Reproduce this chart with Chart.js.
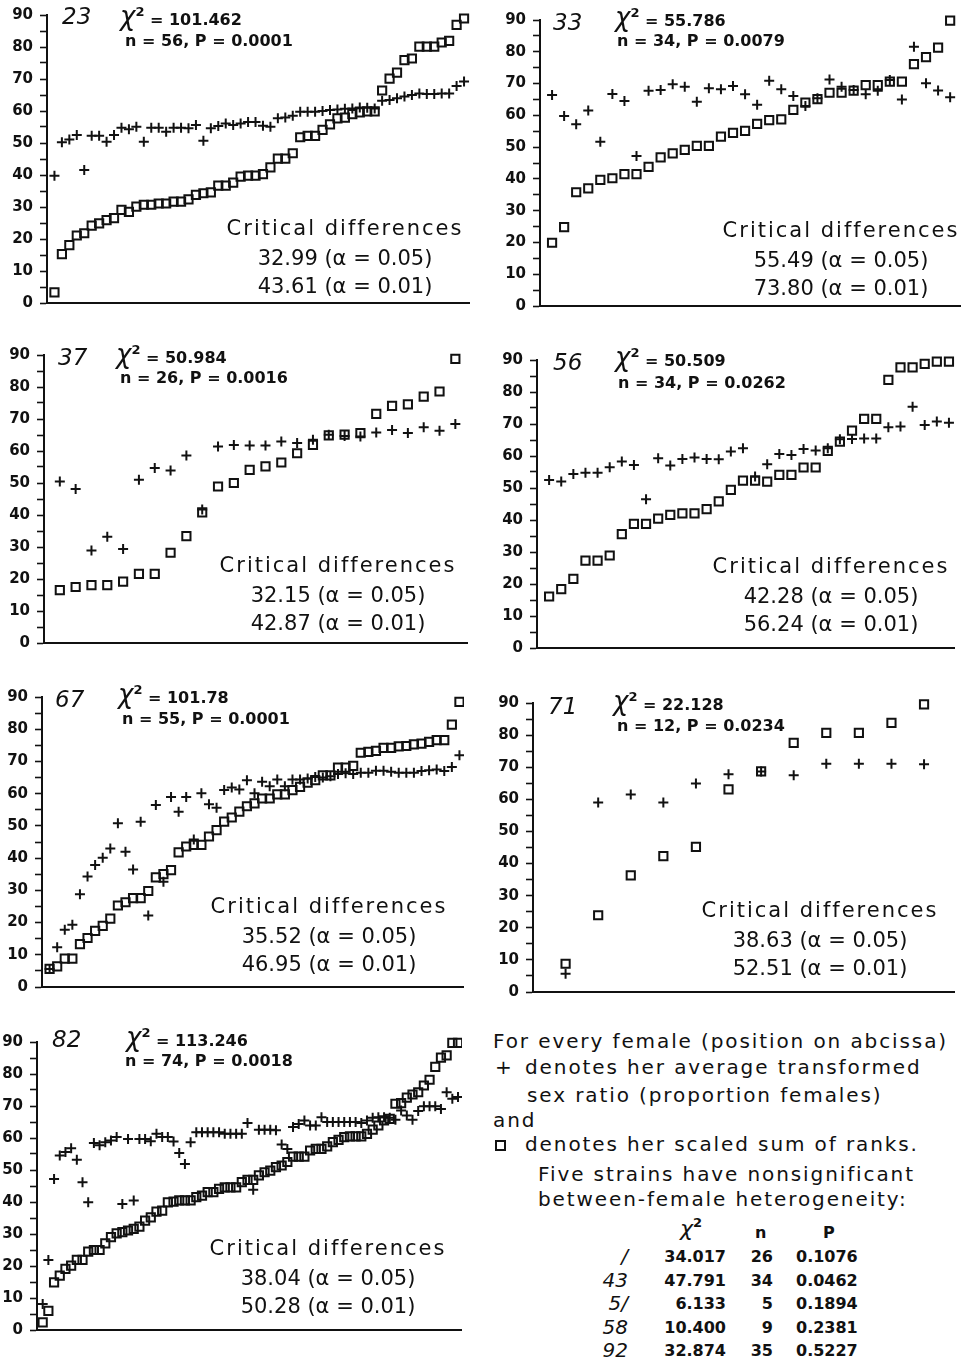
<!DOCTYPE html>
<html>
<head>
<meta charset="utf-8">
<script src="https://cdn.jsdelivr.net/npm/chart.js@4.4.1/dist/chart.umd.min.js"></script>
<style>
  html, body { margin: 0; padding: 0; background: #fff; }
  #page { position: relative; width: 961px; height: 1365px; overflow: hidden; background: #fff; color: #111; font-family: 'DejaVu Sans', sans-serif; }
  .box { position: absolute; }
  .t { position: absolute; white-space: nowrap; line-height: 1; }
  .lbl { font-style: italic; font-size: 23px; font-weight: normal; }
  .slbl { font-style: italic; font-size: 20px; font-weight: normal; }
  .stat { font-size: 16px; font-weight: bold; }
  .chi { font-size: 26px; font-weight: normal; font-style: italic; }
  .sup { font-size: 13px; font-weight: bold; position: relative; top: -9px; }
  .crit { font-size: 21px; text-align: center; width: 260px; }
  .crit.head { letter-spacing: 2px; }
  .note { font-size: 20px; letter-spacing: 1.9px; }
  .cell { font-size: 16px; font-weight: bold; }
  .sqmark { display: inline-block; width: 7px; height: 7px; border: 2px solid #111; }
</style>
</head>
<body>
<div id="page"></div>
<script>
// ------------------------------------------------------------
// Dados — sete linhagens, cada fêmea: soma de postos (□) e razão sexual (+)
// ------------------------------------------------------------

const Y_MAJOR = [0, 10, 20, 30, 40, 50, 60, 70, 80, 90];

const strains = ['23', '33', '37', '56', '67', '71', '82'];
const chi2 = ['101.462', '55.786', '50.984', '50.509', '101.78', '22.128', '113.246'];
const nFemales = ['56', '34', '26', '34', '55', '12', '74'];
const pValues = ['0.0001', '0.0079', '0.0016', '0.0262', '0.0001', '0.0234', '0.0018'];
const crit05 = ['32.99', '55.49', '32.15', '42.28', '35.52', '38.63', '38.04'];
const crit01 = ['43.61', '73.80', '42.87', '56.24', '46.95', '52.51', '50.28'];

const sq23 = [3.3, 15.3, 18.1, 21.1, 21.8, 24.2, 24.9, 25.9, 26.5, 29.1, 28.5, 30.1, 30.7, 30.7, 31.1, 31.1,
  31.7, 31.7, 32.4, 33.8, 34.3, 34.6, 36.7, 36.7, 37.6, 39.5, 39.8, 39.8, 40.3, 42.4, 45.1, 45.1, 46.8, 51.8,
  52.2, 52.2, 54.1, 55.8, 57.7, 57.9, 59.0, 59.6, 59.9, 59.9, 66.4, 70.1, 72.0, 75.9, 76.4, 80.1, 80.1, 80.1,
  81.4, 81.9, 86.9, 88.9];
const pl23 = [39.8, 50.2, 51.1, 52.5, 41.6, 52.3, 52.3, 50.4, 52.5, 54.8, 54.3, 55.1, 50.4, 54.8, 54.8, 53.5,
  54.8, 54.8, 54.6, 55.6, 50.7, 54.6, 55.3, 56.1, 55.6, 56.1, 56.6, 56.6, 55.4, 55.1, 57.7, 58.0, 58.5, 59.8,
  59.8, 59.8, 60.0, 60.3, 60.5, 60.7, 60.8, 61.1, 61.0, 60.8, 63.2, 63.4, 64.0, 64.5, 65.0, 65.5, 65.3, 65.3,
  65.5, 65.5, 67.8, 69.2];

const sq33 = [19.9, 24.8, 35.8, 37.0, 39.7, 40.2, 41.5, 41.5, 43.8, 46.8, 48.0, 49.1, 50.4, 50.4, 53.3, 54.5,
  55.1, 57.3, 58.5, 58.7, 61.7, 64.0, 65.1, 67.1, 67.1, 67.8, 69.5, 69.5, 70.6, 70.6, 76.1, 78.3, 81.3, 89.8];
const pl33 = [66.4, 59.8, 57.2, 61.5, 51.7, 66.7, 64.5, 47.2, 67.7, 68.0, 69.8, 69.0, 64.3, 68.5, 68.2, 69.2,
  66.6, 63.3, 70.9, 68.2, 66.1, 62.9, 65.4, 71.3, 69.0, 68.0, 66.6, 67.7, 71.1, 65.0, 81.6, 70.1, 67.8, 65.7];

const sq37 = [16.5, 17.5, 18.1, 18.1, 19.2, 21.6, 21.6, 28.2, 33.4, 40.8, 48.9, 50.0, 54.1, 55.2, 56.4, 59.3,
  61.9, 64.9, 65.1, 65.6, 71.6, 74.1, 74.6, 77.0, 78.6, 88.8];
const pl37 = [50.5, 48.1, 28.9, 33.2, 29.4, 51.0, 54.7, 53.9, 58.6, 41.7, 61.4, 61.9, 61.7, 61.7, 63.0, 62.5,
  63.5, 65.1, 64.7, 64.5, 65.8, 66.6, 65.6, 67.4, 66.3, 68.4];

const sq56 = [16.1, 18.4, 21.6, 27.3, 27.3, 28.9, 35.6, 38.8, 38.8, 40.4, 41.6, 42.1, 42.1, 43.4, 45.8, 49.4,
  52.3, 52.3, 52.0, 54.1, 54.1, 56.4, 56.4, 61.6, 64.5, 67.9, 71.6, 71.6, 83.8, 87.7, 87.7, 88.8, 89.5, 89.5];
const pl56 = [52.5, 52.0, 54.4, 54.8, 54.8, 56.5, 58.3, 57.2, 46.5, 59.3, 57.0, 59.1, 59.5, 59.1, 59.0, 61.4,
  62.4, 53.6, 57.4, 60.6, 60.3, 62.2, 61.7, 62.4, 65.2, 65.3, 65.5, 65.5, 69.0, 69.2, 75.4, 69.7, 70.8, 70.4];

const sq67 = [5.6, 6.4, 8.8, 8.8, 13.3, 15.2, 17.4, 19.0, 21.2, 25.3, 26.3, 27.6, 27.6, 29.8, 34.0, 35.0,
  36.3, 41.8, 43.6, 44.1, 44.1, 46.7, 48.7, 51.3, 52.6, 54.4, 56.1, 57.0, 58.5, 58.5, 59.8, 59.8, 61.1, 62.1,
  63.4, 64.2, 65.7, 65.7, 68.1, 68.1, 68.6, 72.7, 73.0, 73.3, 74.2, 74.2, 74.7, 74.8, 75.3, 75.5, 76.1, 76.6,
  76.6, 81.4, 88.5];
const pl67 = [5.6, 12.3, 17.8, 19.3, 28.8, 34.3, 37.9, 40.1, 43.0, 50.8, 42.0, 36.5, 51.3, 22.2, 56.5, 32.7,
  59.0, 54.4, 59.0, 45.8, 60.1, 56.7, 55.6, 61.1, 61.9, 61.3, 64.2, 60.1, 63.7, 62.3, 64.4, 62.3, 64.4, 64.4,
  64.7, 65.2, 65.0, 65.4, 66.1, 66.3, 66.1, 66.5, 66.5, 67.1, 67.1, 66.8, 66.5, 66.5, 66.5, 67.0, 67.3, 67.5,
  67.0, 68.3, 71.9];

const sq71 = [8.8, 23.9, 36.3, 42.3, 45.2, 63.1, 68.7, 77.6, 80.7, 80.7, 83.8, 89.6];
const pl71 = [5.7, 59.0, 61.5, 59.0, 64.9, 67.8, 68.7, 67.5, 71.1, 71.1, 71.1, 70.9];

const sq82 = [2.4, 6.0, 14.9, 17.0, 19.1, 20.1, 21.9, 21.9, 24.5, 25.0, 25.0, 27.1, 29.0, 30.2, 30.6, 31.1,
  31.6, 32.3, 34.2, 35.2, 37.0, 37.3, 39.9, 40.1, 40.5, 40.5, 40.5, 41.5, 42.0, 43.1, 43.1, 44.1, 44.6, 44.6,
  44.6, 46.2, 46.9, 46.9, 48.3, 49.3, 49.8, 50.9, 51.4, 52.5, 54.2, 54.2, 54.2, 56.1, 56.6, 56.6, 57.4, 58.7,
  59.4, 60.3, 60.5, 60.5, 60.5, 61.3, 62.6, 63.9, 65.5, 66.0, 70.7, 70.9, 72.6, 73.6, 74.3, 76.4, 78.2, 82.2,
  85.1, 85.8, 89.7, 89.7];
const pl82 = [8.1, 21.9, 47.2, 54.5, 55.6, 56.8, 53.2, 46.2, 39.9, 58.4, 57.7, 58.7, 59.2, 60.3, 39.4, 59.7,
  40.5, 59.7, 59.7, 59.0, 61.3, 60.3, 60.3, 58.9, 55.3, 51.9, 58.7, 61.8, 61.8, 61.8, 61.8, 61.8, 61.3, 61.3,
  61.3, 61.3, 64.7, 43.8, 62.6, 62.6, 62.6, 62.4, 58.0, 56.6, 63.4, 64.4, 65.5, 63.9, 63.9, 66.5, 65.0, 65.0,
  65.0, 65.0, 65.0, 65.0, 64.7, 65.5, 66.3, 66.5, 66.5, 66.3, 65.7, 68.6, 67.0, 65.7, 68.4, 69.9, 69.9, 69.9,
  69.1, 74.3, 72.3, 72.8];

const squares = [sq23, sq33, sq37, sq56, sq67, sq71, sq82];
const crosses = [pl23, pl33, pl37, pl56, pl67, pl71, pl82];

// legenda e tabela das linhagens não significativas
const noteLines = ['For every female (position on abcissa)', 'denotes her average transformed',
  'sex ratio (proportion females)', 'and', 'denotes her scaled sum of ranks.',
  'Five strains have nonsignificant', 'between-female heterogeneity:'];
const nsStrains = ['/', '43', '5/', '58', '92'];
const nsChi2 = ['34.017', '47.791', '6.133', '10.400', '32.874'];
const nsN = ['26', '34', '5', '9', '35'];
const nsP = ['0.1076', '0.0462', '0.1894', '0.2381', '0.5227'];

// ------------------------------------------------------------
// Layout (px na página)
// ------------------------------------------------------------
const AXIS_W = 47;
const PAD_TOP = 14;
const PAD_BOTTOM = 9;
const INK = '#111';

// ax: eixo y, y90/y0: posições verticais, xr: fim do eixo x
const LAYOUT = [
  { ax: 47, y90: 15, y0: 303, xr: 470, xmax: 56.8, lab: [62, 5], chi: [120, 3], n: [125, 33], crit: [345, 218] },
  { ax: 540, y90: 20, y0: 306, xr: 961, xmax: 34.9, lab: [553, 11], chi: [615, 4], n: [617, 33], crit: [841, 220] },
  { ax: 44, y90: 355, y0: 643, xr: 468, xmax: 26.8, lab: [58, 346], chi: [116, 341], n: [120, 370], crit: [338, 555] },
  { ax: 537, y90: 360, y0: 648, xr: 955, xmax: 34.5, lab: [553, 351], chi: [615, 344], n: [618, 375], crit: [831, 556] },
  { ax: 42, y90: 697, y0: 987, xr: 464, xmax: 55.6, lab: [55, 688], chi: [118, 681], n: [122, 711], crit: [329, 896] },
  { ax: 533, y90: 703, y0: 992, xr: 955, xmax: 12.95, lab: [548, 695], chi: [613, 688], n: [617, 718], crit: [820, 900] },
  { ax: 37, y90: 1042, y0: 1330, xr: 462, xmax: 74.7, lab: [52, 1028], chi: [126, 1024], n: [125, 1053], crit: [328, 1238] },
];

const page = document.getElementById('page');

function addText(cls, left, top, html) {
  const d = document.createElement('div');
  d.className = 't ' + cls;
  d.style.left = left + 'px';
  d.style.top = top + 'px';
  d.innerHTML = html;
  page.appendChild(d);
  return d;
}

function addTextRight(cls, right, top, html) {
  const d = addText(cls, 0, top, html);
  d.style.left = 'auto';
  d.style.right = (961 - right) + 'px';
  return d;
}

function montarPainel(i) {
  const L = LAYOUT[i];
  const left = L.ax - AXIS_W;
  const top = L.y90 - PAD_TOP;
  const w = L.xr - left;
  const h = L.y0 - top + PAD_BOTTOM;

  const box = document.createElement('div');
  box.className = 'box';
  box.style.left = left + 'px';
  box.style.top = top + 'px';
  box.style.width = w + 'px';
  box.style.height = h + 'px';
  const canvas = document.createElement('canvas');
  canvas.width = w;
  canvas.height = h;
  canvas.style.width = w + 'px';
  canvas.style.height = h + 'px';
  box.appendChild(canvas);
  page.appendChild(box);

  new Chart(canvas, {
    type: 'scatter',
    data: {
      datasets: [
        {
          data: squares[i].map((v, k) => ({ x: k + 1, y: v })),
          pointStyle: 'rect',
          pointRadius: 5.8,
          borderColor: INK,
          backgroundColor: 'rgba(0,0,0,0)',
          borderWidth: 2,
          clip: false,
        },
        {
          data: crosses[i].map((v, k) => ({ x: k + 1, y: v })),
          pointStyle: 'cross',
          pointRadius: 5,
          borderColor: INK,
          borderWidth: 2,
          clip: false,
        },
      ],
    },
    options: {
      responsive: false,
      animation: false,
      events: [],
      layout: { autoPadding: false, padding: { top: PAD_TOP, bottom: PAD_BOTTOM, left: 0, right: 0 } },
      plugins: { legend: { display: false }, tooltip: { enabled: false } },
      scales: {
        x: {
          type: 'linear', min: 0, max: L.xmax,
          ticks: { display: false },
          grid: { display: true, drawOnChartArea: false, drawTicks: false },
          border: { display: true, color: INK, width: 2 },
          afterFit: (s) => { s.height = 0; s.paddingLeft = 0; s.paddingRight = 0; },
        },
        y: {
          min: 0, max: 90,
          ticks: {
            stepSize: 5, autoSkip: false, padding: 7, color: INK,
            font: { family: "'DejaVu Sans'", size: 15, weight: 'bold' },
            callback: (v) => (Y_MAJOR.includes(v) ? String(v) : ''),
          },
          grid: { drawOnChartArea: false, drawTicks: true, tickLength: 7, tickColor: INK, tickWidth: 1.6 },
          border: { display: true, color: INK, width: 2 },
          afterFit: (s) => { s.width = AXIS_W; s.paddingTop = 0; s.paddingBottom = 0; },
        },
      },
    },
  });

  addText('lbl', L.lab[0], L.lab[1], strains[i]);
  addText('stat', L.chi[0], L.chi[1],
    '<span class="chi">χ</span><span class="sup">2</span> = ' + chi2[i]);
  addText('stat', L.n[0], L.n[1], 'n = ' + nFemales[i] + ', P = ' + pValues[i]);

  const cx = L.crit[0] - 130;
  addText('crit head', cx, L.crit[1], 'Critical differences');
  addText('crit', cx, L.crit[1] + 30, crit05[i] + ' (α = 0.05)');
  addText('crit', cx, L.crit[1] + 58, crit01[i] + ' (α = 0.01)');
}

function montarLegenda() {
  addText('note', 493, 1031, noteLines[0]);
  addText('note', 495, 1057, '+');
  addText('note', 525, 1057, noteLines[1]);
  addText('note', 527, 1085, noteLines[2]);
  addText('note', 493, 1110, noteLines[3]);
  addText('note', 495, 1134, '<span class="sqmark"></span>');
  addText('note', 525, 1134, noteLines[4]);
  addText('note', 538, 1164, noteLines[5]);
  addText('note', 538, 1189, noteLines[6]);

  addText('cell', 680, 1218, '<span class="chi" style="font-size:22px">χ</span><span class="sup">2</span>');
  addText('cell', 755, 1225, 'n');
  addText('cell', 823, 1225, 'P');

  const rowTops = [1249, 1273, 1296, 1320, 1343];
  nsStrains.forEach((s, k) => {
    const y = rowTops[k];
    addTextRight('slbl', 628, y - 3, s);
    addTextRight('cell', 726, y, nsChi2[k]);
    addTextRight('cell', 773, y, nsN[k]);
    addText('cell', 796, y, nsP[k]);
  });
}

strains.forEach((_, i) => montarPainel(i));
montarLegenda();
</script>
</body>
</html>
